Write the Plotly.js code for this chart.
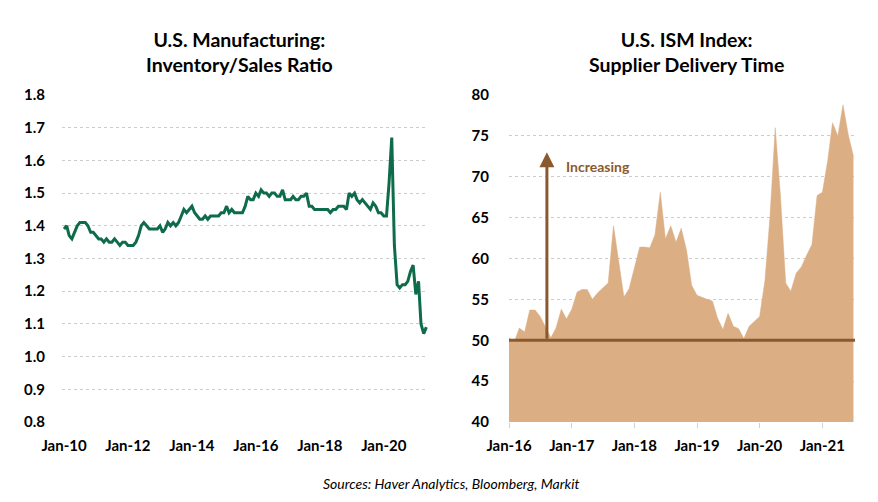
<!DOCTYPE html>
<html><head><meta charset="utf-8">
<script src="https://cdn.plot.ly/plotly-3.0.1.min.js"></script>
<style>body{margin:0;background:#fff}#chart{width:878px;height:502px}</style>
</head><body><div id="chart"></div>
<script>
// U.S. Manufacturing Inventory/Sales ratio, monthly from Jan-2010
const ratioStart = '2010-01';
const ratioValues = [
  1.39,1.40,1.37,1.36,1.38,1.40,1.41,1.41,1.41,1.40,1.38,1.38,
  1.37,1.36,1.36,1.35,1.36,1.35,1.35,1.36,1.35,1.34,1.35,1.35,
  1.34,1.34,1.34,1.35,1.37,1.40,1.41,1.40,1.39,1.39,1.39,1.39,
  1.40,1.38,1.39,1.41,1.40,1.41,1.40,1.41,1.43,1.45,1.44,1.45,
  1.46,1.44,1.43,1.42,1.42,1.43,1.42,1.43,1.43,1.43,1.43,1.44,
  1.44,1.46,1.44,1.45,1.44,1.44,1.44,1.44,1.46,1.49,1.48,1.48,
  1.50,1.49,1.51,1.50,1.50,1.49,1.50,1.50,1.49,1.49,1.51,1.48,
  1.48,1.48,1.49,1.48,1.48,1.49,1.49,1.50,1.46,1.46,1.45,1.45,
  1.45,1.45,1.45,1.45,1.44,1.45,1.45,1.46,1.46,1.46,1.45,1.50,
  1.49,1.50,1.48,1.47,1.48,1.47,1.46,1.45,1.47,1.46,1.44,1.44,
  1.43,1.43,1.53,1.67,1.34,1.22,1.21,1.22,1.22,1.23,1.26,1.28,
  1.19,1.23,1.10,1.07,1.09
];
const ratioTickVals = ['2010-01-01','2012-01-01','2014-01-01','2016-01-01','2018-01-01','2020-01-01'];
const ratioTickText = ['Jan-10','Jan-12','Jan-14','Jan-16','Jan-18','Jan-20'];

// U.S. ISM Supplier Deliveries index, monthly from Jan-2016
const ismStart = '2016-01';
const ismValues = [
  50.3,49.8,51.5,51.0,53.7,53.7,52.9,51.6,50.3,51.5,53.8,52.6,
  53.8,55.9,56.2,56.2,55.0,55.8,56.4,57.0,64.0,59.7,55.3,56.3,
  58.9,61.4,61.4,61.3,62.9,68.1,62.4,64.0,62.0,63.7,61.0,56.7,
  55.5,55.2,55.0,54.8,52.7,51.3,53.3,51.7,51.4,50.2,51.7,52.3,
  52.9,57.3,65.0,76.0,67.8,57.0,56.0,58.2,59.0,60.4,61.7,67.7,
  68.1,72.0,76.6,75.0,78.8,75.1,72.5
];
const ismTickVals = ['2016-01-01','2017-01-01','2018-01-01','2019-01-01','2020-01-01','2021-01-01'];
const ismTickText = ['Jan-16','Jan-17','Jan-18','Jan-19','Jan-20','Jan-21'];
const ismThreshold = 50;
const arrowDate = '2016-08-09';
const arrowTop = 73;
const arrowLabel = 'Increasing';

function monthDates(start, n) {
  const [y, m] = start.split('-').map(Number);
  const out = [];
  for (let i = 0; i < n; i++) {
    const mm = m - 1 + i;
    const yy = y + Math.floor(mm / 12);
    const mo = (mm % 12) + 1;
    out.push(yy + '-' + String(mo).padStart(2, '0') + '-01');
  }
  return out;
}

const FONT = 'Lato, "Open Sans", sans-serif';
const GREEN = '#0F6C4A';
const TAN = '#DBAE84';
const BROWN = '#8A5A2E';
const GRID = '#cccccc';

const traces = [
  {
    x: monthDates(ratioStart, ratioValues.length), y: ratioValues,
    type: 'scatter', mode: 'lines', xaxis: 'x', yaxis: 'y',
    line: {color: GREEN, width: 3}, hoverinfo: 'skip'
  },
  {
    x: monthDates(ismStart, ismValues.length), y: ismValues,
    type: 'scatter', mode: 'lines', xaxis: 'x2', yaxis: 'y2',
    fill: 'tozeroy', fillcolor: TAN, line: {color: TAN, width: 0.5}, hoverinfo: 'skip'
  }
];

const yDom = [1 - 422/502, 1 - 95/502];
const tickFont = {family: FONT, size: 15, color: '#000', weight: 'bold'};

const layout = {
  width: 878, height: 502,
  margin: {l: 0, r: 0, t: 0, b: 0},
  paper_bgcolor: '#fff', plot_bgcolor: 'rgba(0,0,0,0)',
  showlegend: false,
  font: {family: FONT},
  xaxis: {
    domain: [62/878, 428/878], type: 'date',
    range: ['2009-12-09', '2021-05-20'],
    tickvals: ratioTickVals, ticktext: ratioTickText,
    tickfont: tickFont, showgrid: false, zeroline: false, showline: false,
    ticks: 'outside', ticklen: 10, tickcolor: 'rgba(0,0,0,0)'
  },
  yaxis: {
    domain: yDom, range: [0.8, 1.8], dtick: 0.1, tickformat: '.1f',
    tickfont: tickFont, showgrid: true, gridcolor: GRID, griddash: 'dot', gridwidth: 1,
    zeroline: false, showline: false,
    ticks: 'outside', ticklen: 13, tickcolor: 'rgba(0,0,0,0)'
  },
  xaxis2: {
    domain: [509/878, 855/878], type: 'date', anchor: 'y2',
    range: ['2016-01-01', '2021-07-10'],
    tickvals: ismTickVals, ticktext: ismTickText,
    tickfont: tickFont, showgrid: false, zeroline: false, showline: false,
    ticks: 'outside', ticklen: 5, tickcolor: '#d0d0d0', ticklabelstandoff: 5
  },
  yaxis2: {
    domain: yDom, range: [40, 80], dtick: 5, anchor: 'x2',
    tickfont: {family: FONT, size: 15, color: '#000', weight: 'bold'},
    showgrid: true, gridcolor: GRID, griddash: 'dot', gridwidth: 1,
    zeroline: false, showline: false,
    ticks: 'outside', ticklen: 16, tickcolor: 'rgba(0,0,0,0)'
  },
  shapes: [
    {type: 'line', xref: 'x2 domain', yref: 'y2', x0: 0, x1: 1, y0: ismThreshold, y1: ismThreshold,
     line: {color: BROWN, width: 3}, layer: 'above'}
  ],
  annotations: [
    {text: '<b>U.S. Manufacturing:</b><br><b>Inventory/Sales Ratio</b>', xref: 'paper', yref: 'paper',
     x: 239/878, y: 1 - 52/502, xanchor: 'center', yanchor: 'middle', showarrow: false,
     font: {family: FONT, size: 19.5, color: '#000'}},
    {text: '<b>U.S. ISM Index:</b><br><b>Supplier Delivery Time</b>', xref: 'paper', yref: 'paper',
     x: 686/878, y: 1 - 52/502, xanchor: 'center', yanchor: 'middle', showarrow: false,
     font: {family: FONT, size: 19.5, color: '#000'}},
    {text: '', xref: 'x2', yref: 'y2', axref: 'x2', ayref: 'y2',
     x: arrowDate, y: arrowTop, ax: arrowDate, ay: ismThreshold,
     showarrow: true, arrowhead: 2, arrowsize: 1, arrowwidth: 3, arrowcolor: BROWN, standoff: 0, startstandoff: 0},
    {text: '<b>' + arrowLabel + '</b>', xref: 'x2', yref: 'y2', x: '2016-11-18', y: 71.3,
     xanchor: 'left', yanchor: 'middle', showarrow: false,
     font: {family: FONT, size: 14, color: BROWN}},
    {text: '<i>Sources: Haver Analytics, Bloomberg, Markit</i>', xref: 'paper', yref: 'paper',
     x: 451/878, y: 1 - 483/502, xanchor: 'center', yanchor: 'middle', showarrow: false,
     font: {family: FONT, size: 14, color: '#000'}}
  ]
};

Plotly.newPlot('chart', traces, layout, {staticPlot: true, displayModeBar: false});
</script>
</body></html>
